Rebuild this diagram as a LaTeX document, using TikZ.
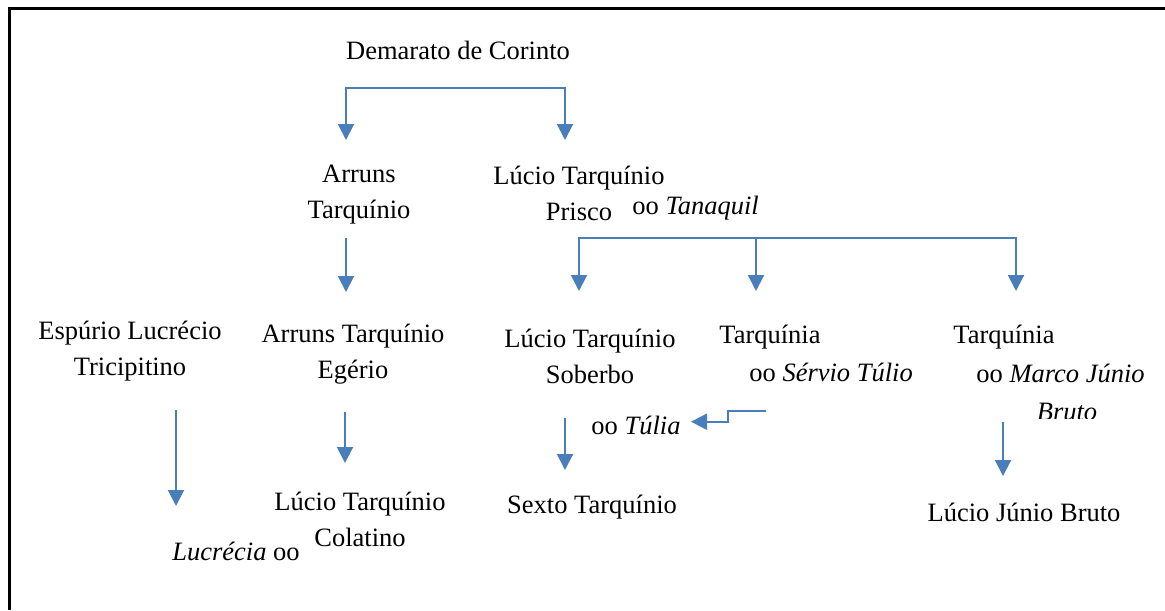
\documentclass[tikz,border=0pt]{standalone}
\usepackage{fontspec}
\setmainfont{Liberation Serif}
\usetikzlibrary{arrows.meta}
\definecolor{linkblue}{RGB}{74,126,187}
\tikzset{
	person/.style={inner sep=0pt, anchor=base, align=center, font=\fontsize{13.25}{18}\selectfont},
	spouse/.style={person, anchor=base west},
	link/.style={draw=linkblue, line width=1pt, -{Triangle[width=8pt,length=8pt]}},
	fork/.style={link, {Triangle[width=8pt,length=8pt]}-{Triangle[width=8pt,length=8pt]}},
}
\begin{document}
\begin{tikzpicture}[x=0.5pt, y=-0.5pt]
			\useasboundingbox (0,0) rectangle (1165,610);
			\draw[line width=1.5pt] (9,610) -- (9,9) -- (1165,9);
			% people (multi-line nodes sit on the baseline of their last line)
			\node[person] (demarato) at (458,60) {Demarato de Corinto};
			\node[person] (arruns) at (359,218) {Arruns\\Tarquínio};
			\node[person] (prisco) at (579,220) {Lúcio Tarquínio\\Prisco};
			\node[spouse] (tanaquil) at (632,214) {oo \textit{Tanaquil}};
			\node[person] (espurio) at (130,375) {Espúrio Lucrécio\\Tricipitino};
			\node[person] (egerio) at (353,378) {Arruns Tarquínio\\Egério};
			\node[person] (soberbo) at (590,383) {Lúcio Tarquínio\\Soberbo};
			\node[spouse] (tarquiniaA) at (719,343) {Tarquínia};
			\node[spouse] (servio) at (749,381) {oo \textit{Sérvio Túlio}};
			\node[spouse] (tarquiniaB) at (953,343) {Tarquínia};
			\node[spouse] (marco) at (976,382) {oo \textit{Marco Júnio}};
			\begin{scope}
				\clip (900,390) rectangle (1165,418);
				\node[person] (bruto) at (1067,420) {\textit{Bruto}};
			\end{scope}
			\node[spouse] (tulia) at (591,434) {oo \textit{Túlia}};
			\node[person] (colatino) at (360,546) {Lúcio Tarquínio\\Colatino};
			\node[spouse] (lucrecia) at (172,560) {\textit{Lucrécia} oo};
			\node[person] (sexto) at (592,513) {Sexto Tarquínio};
			\node[person] (juniobruto) at (1024,521) {Lúcio Júnio Bruto};
			% connector ends
			\coordinate (barA) at (456,88);
			\coordinate (toArruns) at (346,140);
			\coordinate (toPrisco) at (565,140);
			\coordinate (barB) at (756,238);
			\coordinate (toSoberbo) at (579,291);
			\coordinate (toTarqA) at (756,291);
			\coordinate (toTarqB) at (1016,291);
			\draw[fork] (toArruns) -- (toArruns |- barA) -- (toPrisco |- barA) -- (toPrisco);
			\draw[fork] (toSoberbo) -- (toSoberbo |- barB) -- (toTarqB |- barB) -- (toTarqB);
			\draw[link] (barB) -- (toTarqA);
			\foreach \n/\x/\ya/\yb in {a/346/238/292, b/176/410/506, c/345/412/463, d/565/418/470, e/1003/422/476}{
				\coordinate (from\n) at (\x,\ya);
				\coordinate (to\n) at (\x,\yb);
				\draw[link] (from\n) -- (to\n);
			}
			\coordinate (fromServio) at (766,410.5);
			\coordinate (toTulia) at (691,421.7);
			\draw[link] (fromServio) -- (728,410.5) -- (728,421.7) -- (toTulia);
		\end{tikzpicture}
\end{document}
